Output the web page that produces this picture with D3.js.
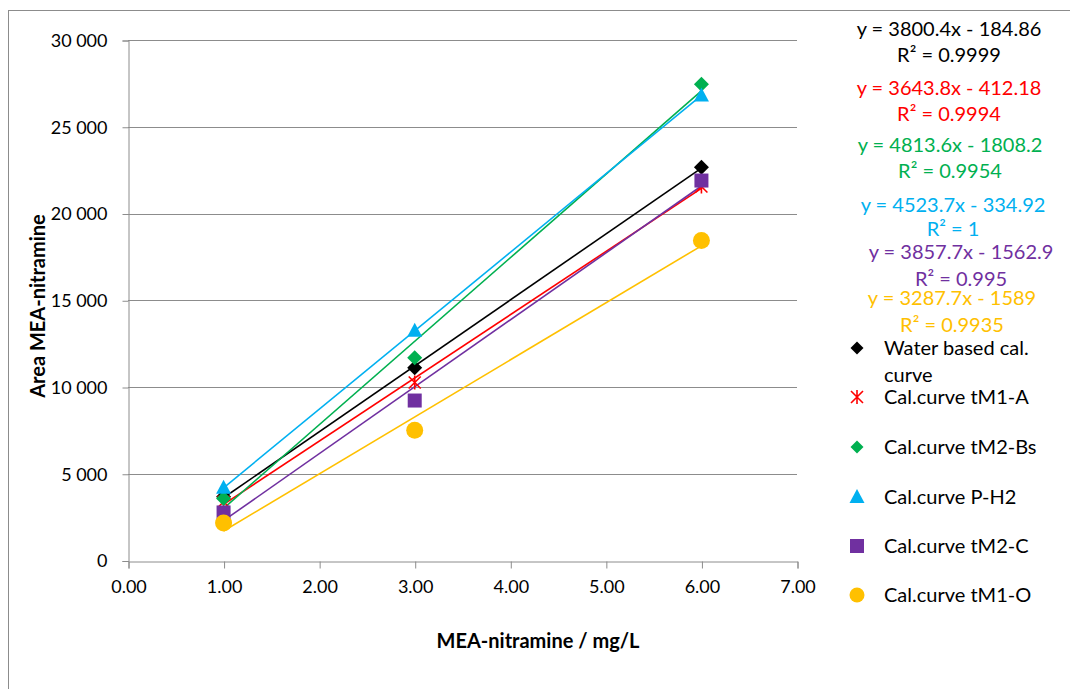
<!DOCTYPE html>
<html>
<head>
<meta charset="utf-8">
<script src="https://cdn.jsdelivr.net/npm/d3@7"></script>
<style>
  html, body { margin: 0; padding: 0; background: #fff; }
  svg { display: block; }
  text { font-family: Lato, "Open Sans", sans-serif; }
</style>
</head>
<body>
<svg id="chart" width="1070" height="689"></svg>
<script>
// Concentrations (mg/L) of the calibration standards
const concentrations = [1, 3, 6];

// Peak areas per calibration series
const seriesNames = [
  "Water based cal. curve",
  "Cal.curve tM1-A",
  "Cal.curve tM2-Bs",
  "Cal.curve P-H2",
  "Cal.curve tM2-C",
  "Cal.curve tM1-O"
];
const waterBased = [3681, 11106, 22662];
const tM1A      = [3386, 10261, 21554];
const tM2Bs     = [3571, 11690, 27450];
const pH2       = [4189, 13236, 26807];
const tM2C      = [2769, 9220, 21899];
const tM1O      = [2159, 7507, 18444];

// Linear trendline fits shown next to the plot
const slopes     = [3800.4, 3643.8, 4813.6, 4523.7, 3857.7, 3287.7];
const intercepts = [-184.86, -412.18, -1808.2, -334.92, -1562.9, -1589];
const equations  = [
  "y = 3800.4x - 184.86", "y = 3643.8x - 412.18", "y = 4813.6x - 1808.2",
  "y = 4523.7x - 334.92", "y = 3857.7x - 1562.9", "y = 3287.7x - 1589"
];
const rSquared   = ["0.9999", "0.9994", "0.9954", "1", "0.995", "0.9935"];

const colors  = ["#000000", "#ff0000", "#00b050", "#00b0f0", "#7030a0", "#ffc000"];
const markers = ["diamond", "star", "diamond", "triangle", "square", "circle"];

const xTicks = [0, 1, 2, 3, 4, 5, 6, 7];
const yTicks = [0, 5000, 10000, 15000, 20000, 25000, 30000];

const values = [waterBased, tM1A, tM2Bs, pH2, tM2C, tM1O];
const series = seriesNames.map((name, i) => ({
  name, color: colors[i], marker: markers[i],
  slope: slopes[i], intercept: intercepts[i],
  eq: equations[i], r2: rSquared[i],
  points: concentrations.map((c, j) => ({ x: c, y: values[i][j] }))
}));

const svg = d3.select("#chart");
const grey = "#8c8c8c";
const labelSize = 20;

// Outer chart frame
svg.append("rect")
  .attr("x", 8.5).attr("y", 10.5)
  .attr("width", 1100).attr("height", 720)
  .attr("fill", "none").attr("stroke", grey).attr("stroke-width", 1);

const plotLeft = 128, plotRight = 797, plotTop = 40, plotBottom = 560.5;
const x = d3.scaleLinear().domain([0, 7]).range([plotLeft, plotRight]);
const y = d3.scaleLinear().domain([0, 30000]).range([plotBottom, plotTop]);

// Horizontal gridlines
svg.append("g").selectAll("line")
  .data(yTicks.filter(d => d > 0))
  .join("line")
  .attr("x1", plotLeft).attr("x2", plotRight)
  .attr("y1", d => Math.round(y(d)) + 0.5).attr("y2", d => Math.round(y(d)) + 0.5)
  .attr("stroke", grey).attr("stroke-width", 1);

// Axes
const yAxis = svg.append("g")
  .attr("transform", `translate(${plotLeft + 0.5},0.5)`)
  .call(d3.axisLeft(y).tickValues(yTicks).tickSize(6).tickPadding(15)
    .tickFormat(d => d3.format(",")(d).replace(/,/g, " ")));
const xAxis = svg.append("g")
  .attr("transform", `translate(0.5,${Math.round(plotBottom) + 0.5})`)
  .call(d3.axisBottom(x).tickValues(xTicks).tickSize(7).tickPadding(12)
    .tickFormat(d3.format(".2f")));
[yAxis, xAxis].forEach(ax => {
  ax.select(".domain").attr("stroke", grey);
  ax.selectAll(".tick line").attr("stroke", grey);
  ax.selectAll(".tick text")
    .attr("fill", "#000").attr("font-size", 18)
    .attr("font-family", "Lato, 'Open Sans', sans-serif");
});

// Axis titles
svg.append("text")
  .attr("x", 538).attr("y", 648)
  .attr("text-anchor", "middle")
  .attr("font-size", labelSize).attr("font-weight", "bold")
  .text("MEA-nitramine / mg/L");
svg.append("text")
  .attr("transform", "translate(45,306) rotate(-90)")
  .attr("text-anchor", "middle")
  .attr("font-size", labelSize).attr("font-weight", "bold")
  .text("Area MEA-nitramine");

// Trendlines over the measured range
const xMin = d3.min(concentrations), xMax = d3.max(concentrations);
svg.append("g").selectAll("line")
  .data(series)
  .join("line")
  .attr("x1", x(xMin)).attr("y1", d => y(d.slope * xMin + d.intercept))
  .attr("x2", x(xMax)).attr("y2", d => y(d.slope * xMax + d.intercept))
  .attr("stroke", d => d.color).attr("stroke-width", 1.6);

// Marker drawing helper
function drawMarker(g, type, color, cx, cy) {
  if (type === "diamond") {
    g.append("path").attr("d", `M${cx},${cy - 7.5}L${cx + 7.5},${cy}L${cx},${cy + 7.5}L${cx - 7.5},${cy}Z`)
      .attr("fill", color);
  } else if (type === "square") {
    g.append("rect").attr("x", cx - 7).attr("y", cy - 7).attr("width", 14).attr("height", 14)
      .attr("fill", color);
  } else if (type === "triangle") {
    g.append("path").attr("d", `M${cx},${cy - 8}L${cx + 7.5},${cy + 6}L${cx - 7.5},${cy + 6}Z`)
      .attr("fill", color);
  } else if (type === "circle") {
    g.append("circle").attr("cx", cx).attr("cy", cy).attr("r", 8.5).attr("fill", color);
  } else if (type === "star") {
    const s = 6;
    g.append("path")
      .attr("d", `M${cx - s},${cy - s}L${cx + s},${cy + s}M${cx + s},${cy - s}L${cx - s},${cy + s}M${cx},${cy - s - 1}L${cx},${cy + s + 1}`)
      .attr("stroke", color).attr("stroke-width", 1.6).attr("fill", "none");
  }
}

// Data markers
const markerLayer = svg.append("g");
series.forEach(s => {
  s.points.forEach(p => drawMarker(markerLayer, s.marker, s.color, x(p.x), y(p.y)));
});

// Trendline equations and R² labels
const eqX = [949, 949, 950, 953, 961, 952];
const eqY = [36, 95, 152, 212, 259, 305];
const r2Y = [62, 121, 178, 236, 286, 332];
const eqG = svg.append("g").attr("font-size", labelSize).attr("text-anchor", "middle");
series.forEach((s, i) => {
  eqG.append("text").attr("x", eqX[i]).attr("y", eqY[i]).attr("fill", s.color).text(s.eq);
  eqG.append("text").attr("x", eqX[i]).attr("y", r2Y[i]).attr("fill", s.color)
    .text("R² = " + s.r2);
});

// Legend
const legendRows = [355, 404, 454, 504, 553, 602];
const legend = svg.append("g").attr("font-size", labelSize);
series.forEach((s, i) => {
  const cy = legendRows[i] - 7;
  if (s.marker === "circle") {
    legend.append("circle").attr("cx", 857).attr("cy", cy).attr("r", 7.5).attr("fill", s.color);
  } else if (s.marker === "diamond") {
    legend.append("path").attr("d", `M857,${cy - 6.5}L863.5,${cy}L857,${cy + 6.5}L850.5,${cy}Z`).attr("fill", s.color);
  } else if (s.marker === "square") {
    legend.append("rect").attr("x", 850).attr("y", cy - 7).attr("width", 14).attr("height", 14).attr("fill", s.color);
  } else {
    drawMarker(legend, s.marker, s.color, 857, cy);
  }
  if (i === 0) {
    legend.append("text").attr("x", 884).attr("y", legendRows[i]).text("Water based cal.");
    legend.append("text").attr("x", 884).attr("y", legendRows[i] + 27).text("curve");
  } else {
    legend.append("text").attr("x", 884).attr("y", legendRows[i]).text(s.name);
  }
});
</script>
</body>
</html>
